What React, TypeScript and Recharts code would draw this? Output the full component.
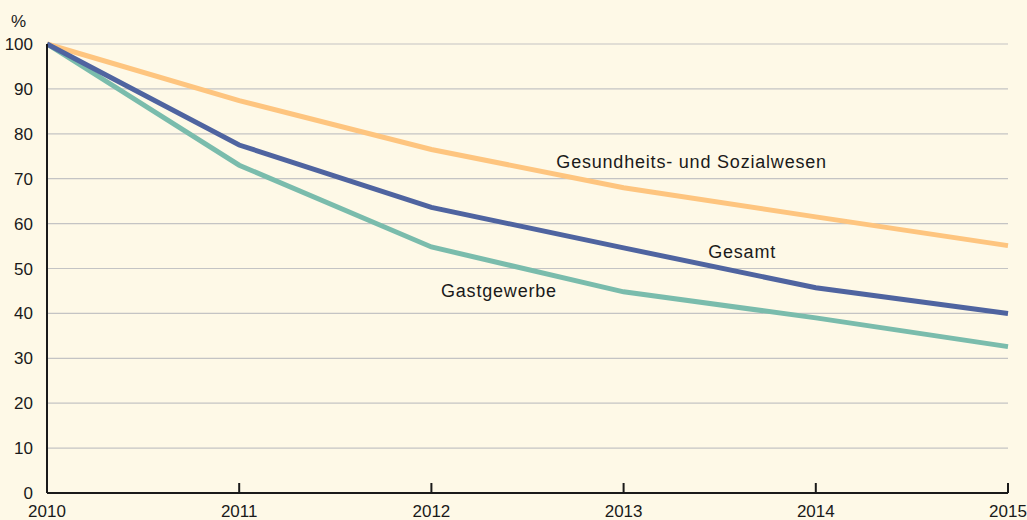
import React from "react";
import { LineChart, Line, XAxis, YAxis, CartesianGrid, ReferenceDot } from "recharts";

const years = [2010, 2011, 2012, 2013, 2014, 2015];
const gesundheit = [100, 87.4, 76.5, 68.0, 61.5, 55.1];
const gesamt = [100, 77.5, 63.6, 54.6, 45.7, 40.0];
const gastgewerbe = [100, 73.0, 54.8, 44.8, 39.0, 32.6];
const yTicks = [0, 10, 20, 30, 40, 50, 60, 70, 80, 90, 100];

const labels = [
  { text: "Gesundheits- und Sozialwesen", year: 2012.65, value: 73.7 },
  { text: "Gesamt", year: 2013.44, value: 53.7 },
  { text: "Gastgewerbe", year: 2012.05, value: 45.0 },
];

const data = years.map((year, i) => ({
  year,
  gesundheit: gesundheit[i],
  gesamt: gesamt[i],
  gastgewerbe: gastgewerbe[i],
}));

const FONT = '"Liberation Sans", Arial, sans-serif';
const INK = "#1a1a1a";

const YearTick = (props: any) => {
  const { x, y, payload } = props;
  return (
    <g>
      <line x1={x} x2={x} y1={y} y2={y - 10} stroke={INK} strokeWidth={2} />
      <text x={x} y={y + 24} textAnchor="middle" fontSize={17} fontFamily={FONT} fill={INK}>
        {payload.value}
      </text>
    </g>
  );
};

const seriesLabel = (text: string) => (props: any) => {
  const { viewBox } = props;
  return (
    <text x={viewBox.x} y={viewBox.y + 6} fontSize={18} letterSpacing={0.8} fontFamily={FONT} fill={INK}>
      {text}
    </text>
  );
};

export default function App() {
  return (
    <div style={{ position: "fixed", left: 0, top: 0, width: 1027, height: 520, background: "#fef9e7" }}>
      <LineChart width={1027} height={520} data={data} margin={{ top: 44, right: 19, left: 0, bottom: 0 }}>
        <CartesianGrid vertical={false} stroke="#c4c4c4" strokeWidth={1.2} />
        <XAxis
          dataKey="year"
          type="number"
          domain={[2010, 2015]}
          ticks={years}
          height={27}
          axisLine={{ stroke: INK, strokeWidth: 2 }}
          tickLine={false}
          tickSize={0}
          tickMargin={0}
          tick={<YearTick />}
        />
        <YAxis
          domain={[0, 100]}
          ticks={yTicks}
          width={47}
          axisLine={{ stroke: INK, strokeWidth: 2 }}
          tickLine={false}
          tickMargin={8}
          tick={{ fontSize: 17, fontFamily: FONT, fill: INK }}
          label={{
            content: () => (
              <text x={11} y={27} fontSize={17} fontFamily={FONT} fill={INK}>
                %
              </text>
            ),
          }}
        />
        <Line dataKey="gesundheit" stroke="#fec57f" strokeWidth={5} dot={false} isAnimationActive={false} />
        <Line dataKey="gastgewerbe" stroke="#7abcac" strokeWidth={5} dot={false} isAnimationActive={false} />
        <Line dataKey="gesamt" stroke="#4f64a0" strokeWidth={5} dot={false} isAnimationActive={false} />
        {labels.map((l) => (
          <ReferenceDot
            key={l.text}
            x={l.year}
            y={l.value}
            r={0}
            fill="none"
            stroke="none"
            label={{ content: seriesLabel(l.text) }}
          />
        ))}
      </LineChart>
    </div>
  );
}
